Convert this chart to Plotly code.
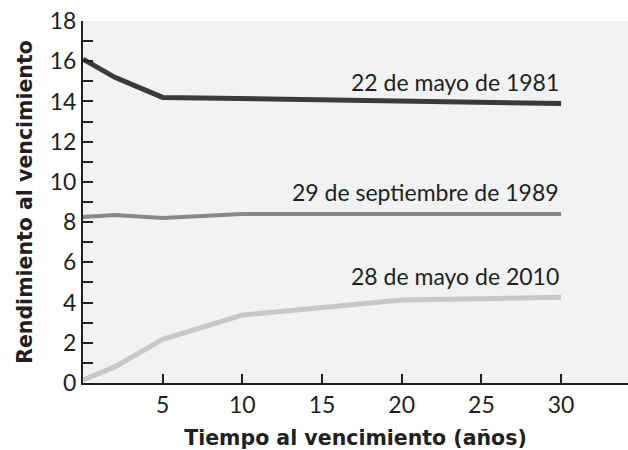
import plotly.graph_objects as go

maturity = [0, 2, 5, 10, 20, 30]
y1981 = [16.1, 15.2, 14.2, 14.15, 14.0, 13.9]
y1989 = [8.25, 8.35, 8.2, 8.4, 8.4, 8.4]
y2010 = [0.15, 0.8, 2.17, 3.38, 4.13, 4.26]
labels = ["22 de mayo de 1981", "29 de septiembre de 1989", "28 de mayo de 2010"]
label_y = [14.95, 9.5, 5.3]
x_ticks = [5, 10, 15, 20, 25, 30]
y_ticks = list(range(0, 19))
y_ticktext = [str(v) if v % 2 == 0 else "" for v in y_ticks]

FONT = "Lato, Liberation Sans, sans-serif"
BOLD = "DejaVu Sans, sans-serif"
DARK = "#231f20"

fig = go.Figure()
for ys, col, w in [(y1981, "#3a3a3a", 5), (y1989, "#888888", 4), (y2010, "#c8c8c8", 5)]:
    fig.add_trace(go.Scatter(x=maturity, y=ys, mode="lines",
                             line=dict(color=col, width=w), showlegend=False,
                             hoverinfo="skip"))

for txt, ly in zip(labels, label_y):
    fig.add_annotation(x=maturity[-1], y=ly, text=txt, showarrow=False,
                       xanchor="right", yanchor="middle",
                       font=dict(family=FONT, size=23, color=DARK))

fig.update_layout(
    width=628, height=450,
    margin=dict(l=83, r=0, t=21, b=67),
    paper_bgcolor="white", plot_bgcolor="#f1f2f4",
    font=dict(family=FONT, size=23, color=DARK),
    xaxis=dict(range=[0, 34.2], tickvals=x_ticks, ticks="inside", ticklen=9,
               tickwidth=1.5, tickcolor=DARK, showline=True, linecolor=DARK,
               linewidth=2, showgrid=False, zeroline=False, automargin=False,
               title=dict(text="<b>Tiempo al vencimiento (años)</b>",
                          font=dict(family=BOLD, size=20.5), standoff=14)),
    yaxis=dict(range=[0, 18], tickvals=y_ticks, ticktext=y_ticktext,
               ticks="inside", ticklen=10, tickwidth=1.5, tickcolor=DARK,
               showline=True, linecolor=DARK, linewidth=2, showgrid=False,
               zeroline=False, automargin=False,
               title=dict(text="<b>Rendimiento al vencimiento</b>",
                          font=dict(family=BOLD, size=20.5), standoff=12)),
)

fig.write_html("out.html", config={"displayModeBar": False},
               post_script="document.body.style.margin='0';document.body.style.overflow='hidden';")
